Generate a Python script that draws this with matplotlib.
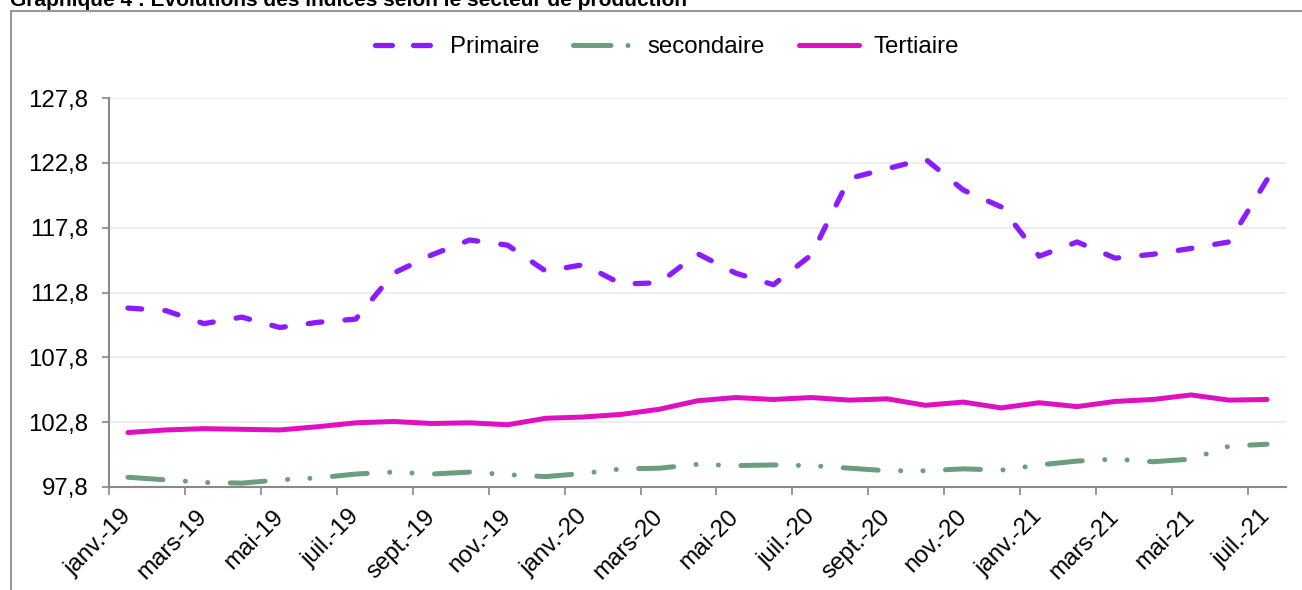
import numpy as np
import matplotlib.pyplot as plt
from matplotlib.patches import Rectangle
from matplotlib.lines import Line2D
from matplotlib.ticker import FixedLocator, FuncFormatter

plt.rcParams['font.family'] = ['Liberation Sans', 'DejaVu Sans']

# mois de janv.-19 a juil.-21
months = ['janv.-19', 'févr.-19', 'mars-19', 'avr.-19', 'mai-19', 'juin-19',
          'juil.-19', 'août-19', 'sept.-19', 'oct.-19', 'nov.-19', 'déc.-19',
          'janv.-20', 'févr.-20', 'mars-20', 'avr.-20', 'mai-20', 'juin-20',
          'juil.-20', 'août-20', 'sept.-20', 'oct.-20', 'nov.-20', 'déc.-20',
          'janv.-21', 'févr.-21', 'mars-21', 'avr.-21', 'mai-21', 'juin-21',
          'juil.-21']

primaire = [111.6, 111.4, 110.4, 110.9, 110.1, 110.5, 110.75, 114.3, 115.7,
            116.85, 116.45, 114.45, 114.95, 113.45, 113.55, 115.8, 114.3,
            113.4, 115.7, 121.6, 122.35, 123.1, 120.7, 119.4, 115.6, 116.7,
            115.45, 115.75, 116.2, 116.7, 121.5]

secondaire = [98.55, 98.35, 98.15, 98.1, 98.35, 98.5, 98.8, 98.95, 98.8,
              98.95, 98.75, 98.6, 98.85, 99.2, 99.25, 99.55, 99.45, 99.5,
              99.45, 99.25, 99.05, 99.05, 99.2, 99.1, 99.5, 99.8, 99.95,
              99.75, 99.95, 100.95, 101.1]

tertiaire = [102.0, 102.2, 102.3, 102.25, 102.2, 102.45, 102.75, 102.85,
             102.7, 102.75, 102.6, 103.1, 103.2, 103.4, 103.8, 104.45, 104.7,
             104.55, 104.7, 104.5, 104.6, 104.1, 104.35, 103.9, 104.3, 104.0,
             104.4, 104.55, 104.9, 104.5, 104.55]

yticks = [97.8, 102.8, 107.8, 112.8, 117.8, 122.8, 127.8]

c_prim = '#8A1CFF'
c_sec = '#6A9E7E'
c_ter = '#E010C0'
fs = 17.3

W, H = 1302, 590
fig = plt.figure(figsize=(W / 100, H / 100), dpi=100)
ax = fig.add_axes([109 / W, (H - 487) / H, (1286 - 109) / W, (487 - 98) / H])

x = np.arange(len(months))
ax.plot(x, primaire, color=c_prim, lw=3.8, ls=(0, (2.6, 4.4)),
        dash_capstyle='round', solid_joinstyle='round')
ax.plot(x, secondaire, color=c_sec, lw=3.6,
        ls=(0, (7.0, 4.5, 0.01, 4.46, 0.01, 4.5)),
        dash_capstyle='round', solid_joinstyle='round')
ax.plot(x, tertiaire, color=c_ter, lw=3.6, solid_capstyle='round',
        solid_joinstyle='round')

ax.set_xlim(-0.5, len(months) - 0.5)
ax.set_ylim(97.8, 127.8)

# axe y
ax.set_yticks(yticks)
ax.yaxis.set_major_formatter(FuncFormatter(lambda v, p: f'{v:.1f}'.replace('.', ',')))
ax.tick_params(axis='y', length=5, width=1.2, color='#898989', pad=10,
               labelsize=fs, labelcolor='black')
ax.grid(axis='y', color='#EBEBEB', lw=1.2)
ax.set_axisbelow(True)

# axe x : graduations tous les 2 mois, etiquettes au centre des categories
ax.xaxis.set_major_locator(FixedLocator(np.arange(-0.5, len(months) - 1, 2)))
ax.xaxis.set_major_formatter(FuncFormatter(lambda v, p: ''))
ax.xaxis.set_minor_locator(FixedLocator(x[::2]))
ax.xaxis.set_minor_formatter(FuncFormatter(lambda v, p: months[int(round(v))]))
ax.tick_params(axis='x', which='major', length=6, width=1.2, color='#898989')
ax.tick_params(axis='x', which='minor', length=0, pad=19, labelsize=fs)
for lbl in ax.get_xticklabels(minor=True):
    lbl.set_rotation(45)
    lbl.set_ha('right')
    lbl.set_va('center')
    lbl.set_rotation_mode('anchor')

for s in ['top', 'right']:
    ax.spines[s].set_visible(False)
for s in ['left', 'bottom']:
    ax.spines[s].set_color('#898989')
    ax.spines[s].set_linewidth(1.5)

# legende avec des motifs courts comme dans l'original
handles = [
    Line2D([], [], color=c_prim, lw=3.8, ls=(0, (3.2, 4.0)), dash_capstyle='round'),
    Line2D([], [], color=c_sec, lw=3.6, ls=(0, (7.5, 3.4, 0.01, 20)), dash_capstyle='round'),
    Line2D([], [], color=c_ter, lw=3.6, solid_capstyle='round'),
]
fig.legend(handles, ['Primaire', 'secondaire', 'Tertiaire'], loc='center',
           bbox_to_anchor=(667 / W, 1 - 47 / H), ncol=3, frameon=False,
           fontsize=fs, handlelength=2.5, handletextpad=0.6, columnspacing=1.4)

# cadre du graphique
fig.patches.append(Rectangle((11 / W, -0.1), 1.2, 1.1 - 11 / H,
                             transform=fig.transFigure, fill=False,
                             edgecolor='#8C8C8C', lw=1.3))

fig.text(10 / W, 1 - 6 / H,
         'Graphique 4 : Evolutions des indices selon le secteur de production',
         fontsize=15, fontweight='bold', ha='left', va='baseline')

fig.savefig('out.png', dpi=100)
